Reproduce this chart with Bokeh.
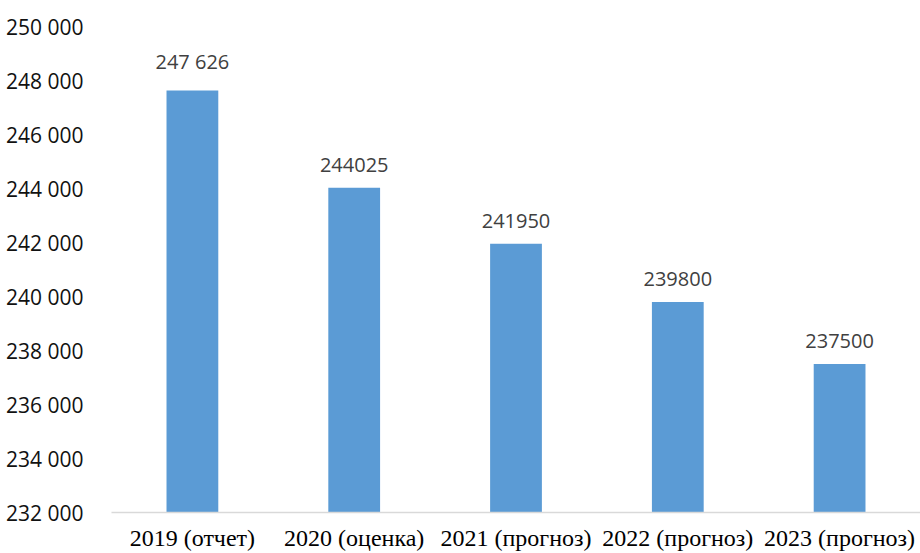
from bokeh.plotting import figure
from bokeh.models import ColumnDataSource, FixedTicker
from bokeh.core.properties import value
from bokeh.embed import file_html
from bokeh.resources import INLINE

categories = ["2019 (отчет)", "2020 (оценка)", "2021 (прогноз)", "2022 (прогноз)", "2023 (прогноз)"]
values = [247626, 244025, 241950, 239800, 237500]
value_labels = ["247 626", "244025", "241950", "239800", "237500"]
y_ticks = [232000, 234000, 236000, 238000, 240000, 242000, 244000, 246000, 248000, 250000]
y_tick_labels = ["232 000", "234 000", "236 000", "238 000", "240 000", "242 000", "244 000", "246 000", "248 000", "250 000"]

src = ColumnDataSource(dict(cat=categories, val=values, lab=value_labels))

p = figure(x_range=categories, y_range=(232000, 250000), width=920, height=553,
           output_backend="svg", toolbar_location=None,
           min_border_left=111, min_border_right=0, min_border_top=26, min_border_bottom=40)
p.outline_line_color = None
p.background_fill_color = "white"
p.border_fill_color = "white"
p.grid.visible = False

p.vbar(x="cat", top="val", bottom=232000, width=0.32, source=src,
       fill_color="#5B9BD5", line_color=None)
p.text(x="cat", y="val", text="lab", source=src, text_align="center",
       text_baseline="bottom", y_offset=-16, text_font=value("Open Sans"),
       text_font_size="20px", text_color="#404040")

p.yaxis.ticker = FixedTicker(ticks=y_ticks)
p.yaxis.major_label_overrides = {t: l for t, l in zip(y_ticks, y_tick_labels)}
p.yaxis.axis_line_color = None
p.yaxis.major_tick_line_color = None
p.yaxis.minor_tick_line_color = None
p.yaxis.major_label_text_font = "Open Sans"
p.yaxis.major_label_text_font_size = "21px"
p.yaxis.major_label_text_color = "#111111"
p.yaxis.major_label_standoff = 22

p.xaxis.axis_line_color = "#d9d9d9"
p.xaxis.axis_line_width = 1.5
p.xaxis.major_tick_line_color = None
p.xaxis.minor_tick_line_color = None
p.xaxis.major_label_text_font = "Liberation Serif"
p.xaxis.major_label_text_font_size = "24px"
p.xaxis.major_label_text_color = "#000000"
p.xaxis.major_label_standoff = 6

open("out.html", "w").write(file_html(p, INLINE))
